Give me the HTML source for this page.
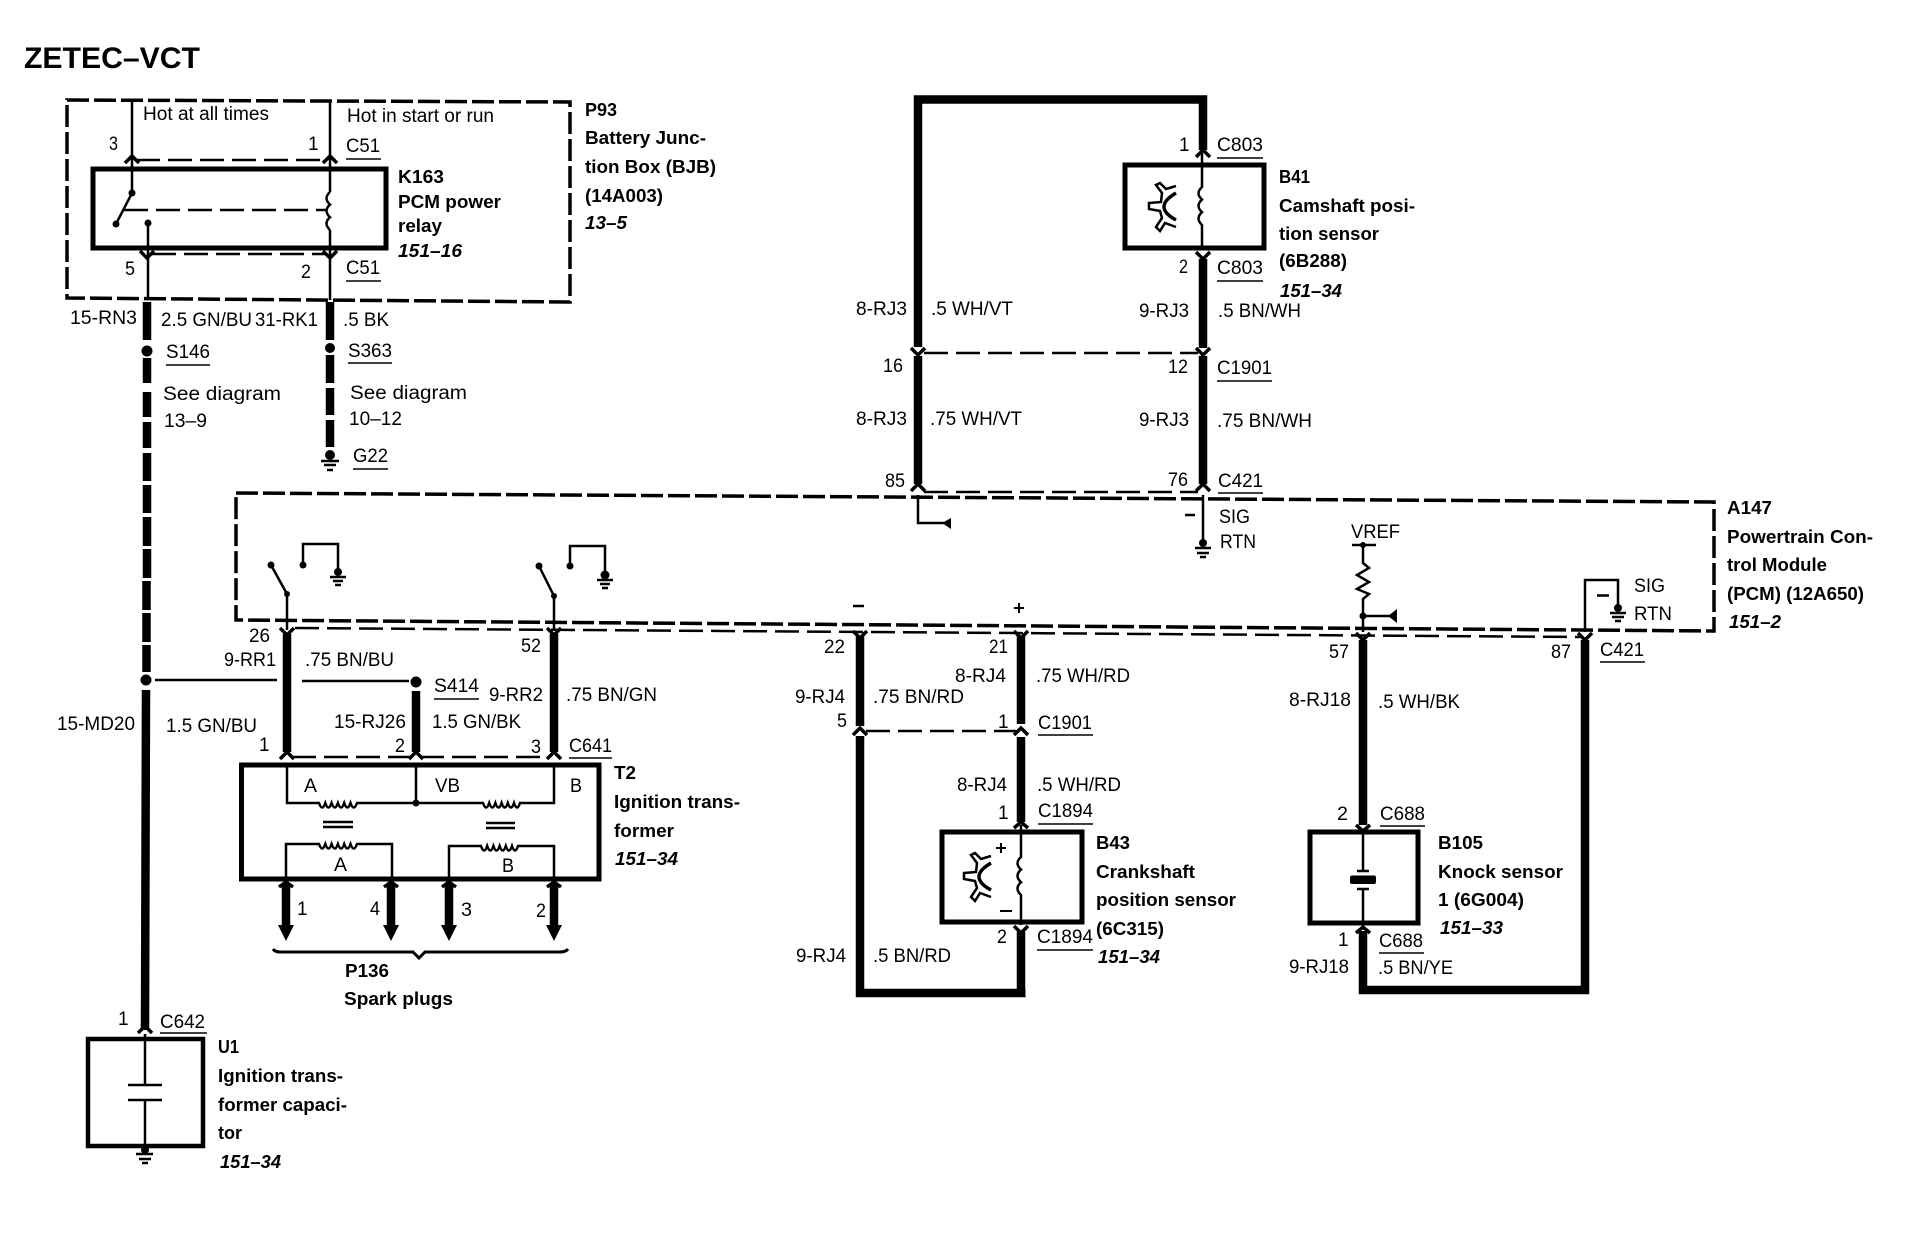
<!DOCTYPE html>
<html><head><meta charset="utf-8"><title>ZETEC-VCT</title>
<style>
html,body{margin:0;padding:0;background:#fff}
svg{display:block}
text{font-family:"Liberation Sans",sans-serif;fill:#000;stroke:none}
.r{font-size:19px}
.b{font-size:18px;font-weight:bold}
.i{font-size:18px;font-weight:bold;font-style:italic}
.t{stroke:#000;stroke-width:2.5;fill:none}
.w{stroke:#000;stroke-width:8.5;fill:none}
.box{stroke:#000;stroke-width:5;fill:none}
.d{stroke:#000;stroke-width:3.5;fill:none;stroke-dasharray:22 5}
.c{stroke:#000;stroke-width:2.5;fill:none;stroke-dasharray:24 8}
.a{stroke:#000;stroke-width:3.5;fill:none}
.u{stroke:#000;stroke-width:1.6}
.g{stroke:#000;stroke-width:2.5}
</style></head><body>
<svg width="1924" height="1248" viewBox="0 0 1924 1248" xmlns="http://www.w3.org/2000/svg">
<rect width="1924" height="1248" fill="#fff"/>
<text x="24" y="68" font-size="30" font-weight="bold" textLength="176" lengthAdjust="spacingAndGlyphs">ZETEC–VCT</text>

<!-- P93 -->
<path class="d" d="M67 100L570 102V302L67 298Z"/>
<path class="t" d="M132 100V193M132 193L116 224M148 223V300M330 100V192M330 230V300"/>
<path class="t" d="M330 192q-7 6.3 0 12.6q-7 6.3 0 12.6q-7 6.3 0 12.8"/>
<circle cx="132" cy="193" r="3.5"/><circle cx="116" cy="224" r="3.5"/><circle cx="148" cy="223" r="3.5"/>
<rect class="box" x="93" y="169" width="293" height="79"/>
<path class="c" d="M124 210H327M136 160H326M152 254H326"/>
<path class="a" d="M125 163L132 156L139 163M323 163L330 156L337 163M140 251L147 258L154 251M323 251L330 258L337 251"/>

<!-- left main wire -->
<path class="w" d="M147 302V340"/><circle cx="147" cy="351" r="5.5"/>
<path class="w" d="M147 358V383M147 392V417M147 422V448M147 453V481M147 485V513M147 517V546M147 549V578M146.500 581V610M146.500 613V642M146.500 645V672"/>
<circle cx="146" cy="680" r="5.5"/>
<path class="w" d="M146 690L145 1030"/>
<path class="t" d="M155 680H277M302 681H409"/><circle cx="416" cy="682" r="5.500"/>
<path class="a" d="M138 1033L145 1026L152 1033"/>

<!-- right P93 wire -->
<path class="w" d="M330 302V340"/><circle cx="330" cy="348" r="5"/>
<path class="w" d="M330 355V383M330 388V415M330 420V447"/>
<circle cx="330" cy="455" r="5"/><path class="g" d="M321 461H339M324 465H336M327 470H333"/>

<text class="r" x="143" y="120" textLength="126" lengthAdjust="spacingAndGlyphs">Hot at all times</text>
<text class="r" x="347" y="122" textLength="147" lengthAdjust="spacingAndGlyphs">Hot in start or run</text>
<text class="r" x="109" y="150" textLength="9" lengthAdjust="spacingAndGlyphs">3</text>
<text class="r" x="308" y="150">1</text>
<text class="r" x="346" y="152" textLength="34" lengthAdjust="spacingAndGlyphs">C51</text><path class="u" d="M346 159H381"/>
<text class="b" x="398" y="183" textLength="46" lengthAdjust="spacingAndGlyphs">K163</text>
<text class="b" x="398" y="208" textLength="103" lengthAdjust="spacingAndGlyphs">PCM power</text>
<text class="b" x="398" y="232" textLength="44" lengthAdjust="spacingAndGlyphs">relay</text>
<text class="i" x="398" y="257" textLength="64" lengthAdjust="spacingAndGlyphs">151–16</text>
<text class="b" x="585" y="116" textLength="32" lengthAdjust="spacingAndGlyphs">P93</text>
<text class="b" x="585" y="144" textLength="121" lengthAdjust="spacingAndGlyphs">Battery Junc-</text>
<text class="b" x="585" y="173" textLength="131" lengthAdjust="spacingAndGlyphs">tion Box (BJB)</text>
<text class="b" x="585" y="202" textLength="78" lengthAdjust="spacingAndGlyphs">(14A003)</text>
<text class="i" x="585" y="229" textLength="42" lengthAdjust="spacingAndGlyphs">13–5</text>
<text class="r" x="125" y="275" textLength="10" lengthAdjust="spacingAndGlyphs">5</text>
<text class="r" x="301" y="278" textLength="10" lengthAdjust="spacingAndGlyphs">2</text>
<text class="r" x="346" y="274" textLength="34" lengthAdjust="spacingAndGlyphs">C51</text><path class="u" d="M346 281H381"/>
<text class="r" x="70" y="324" textLength="67" lengthAdjust="spacingAndGlyphs">15-RN3</text>
<text class="r" x="161" y="326" textLength="91" lengthAdjust="spacingAndGlyphs">2.5 GN/BU</text>
<text class="r" x="255" y="326" textLength="63" lengthAdjust="spacingAndGlyphs">31-RK1</text>
<text class="r" x="343" y="326" textLength="46" lengthAdjust="spacingAndGlyphs">.5 BK</text>
<text class="r" x="166" y="358" textLength="44" lengthAdjust="spacingAndGlyphs">S146</text><path class="u" d="M166 365H210"/>
<text class="r" x="348" y="357" textLength="44" lengthAdjust="spacingAndGlyphs">S363</text><path class="u" d="M348 363H392"/>
<text class="r" x="163" y="400" textLength="118" lengthAdjust="spacingAndGlyphs">See diagram</text>
<text class="r" x="164" y="427" textLength="43" lengthAdjust="spacingAndGlyphs">13–9</text>
<text class="r" x="350" y="399" textLength="117" lengthAdjust="spacingAndGlyphs">See diagram</text>
<text class="r" x="349" y="425" textLength="53" lengthAdjust="spacingAndGlyphs">10–12</text>
<text class="r" x="353" y="462" textLength="35" lengthAdjust="spacingAndGlyphs">G22</text><path class="u" d="M353 469H388"/>
<text class="r" x="57" y="730" textLength="78" lengthAdjust="spacingAndGlyphs">15-MD20</text>
<text class="r" x="166" y="732" textLength="91" lengthAdjust="spacingAndGlyphs">1.5 GN/BU</text>

<!-- A147 -->
<path class="d" d="M236 493L1714 502V631L236 620Z"/>
<path class="c" d="M295 628L1580 637"/>

<!-- switches -->
<path class="t" d="M287 594V630M287 594L271 565M303 565V544H338V572"/>
<circle cx="287" cy="594" r="3"/><circle cx="271" cy="565" r="3.500"/><circle cx="303" cy="565" r="3.500"/><circle cx="338" cy="572" r="4"/>
<path class="g" d="M330 577H346M333 581H343M335 585H341"/>
<path class="t" d="M554 596V630M554 596L539 566M570 566V546H605V575"/>
<circle cx="554" cy="596" r="3"/><circle cx="539" cy="566" r="3.500"/><circle cx="570" cy="566" r="3.500"/><circle cx="605" cy="575" r="4.500"/>
<path class="g" d="M597 580H613M600 584H610M602 588H608"/>

<!-- T2 wires -->
<path class="w" d="M287 634V752M554 634V752M416 691V752"/>
<path class="a" d="M280 628L287 635L294 628M547 628L554 635L561 628"/>
<path class="c" d="M292 757H550"/>
<path class="a" d="M280 759L287 752L294 759M409 759L416 752L423 759M547 759L554 752L561 759"/>
<rect class="box" x="241.500" y="765" width="357.500" height="114"/>
<path class="t" d="M287 765V803H319q3.200 9 6.300 0q3.200 9 6.300 0q3.200 9 6.300 0q3.200 9 6.300 0q3.200 9 6.300 0q3.200 9 6.500 0H483q3.100 9 6.200 0q3.100 9 6.200 0q3.100 9 6.200 0q3.100 9 6.200 0q3.100 9 6.200 0q3.100 9 6 0H554V765M416 765V803"/>
<circle cx="416" cy="803" r="3.500"/>
<path class="t" d="M323 822H353M323 827H353M486 823H515M486 828H515"/>
<path class="t" d="M286 879V844H319q3.200 9 6.300 0q3.200 9 6.300 0q3.200 9 6.300 0q3.200 9 6.300 0q3.200 9 6.300 0q3.200 9 6.500 0H392V879"/>
<path class="t" d="M449 879V846H481q3.100 9 6.200 0q3.100 9 6.200 0q3.100 9 6.200 0q3.100 9 6.200 0q3.100 9 6.200 0q3.100 9 6 0H554V879"/>
<path class="w" d="M286 884V926M391 884V926M449 884V926M554 884V926"/>
<path d="M278 925H294L286 941ZM383 925H399L391 941ZM441 925H457L449 941ZM546 925H562L554 941Z"/>
<path class="a" d="M279 887L286 882L293 887M384 887L391 882L398 887M442 887L449 882L456 887M547 887L554 882L561 887"/>
<path d="M273 949Q275 952 280 952H413L419 958L425 952H560Q566 952 568 949" stroke="#000" stroke-width="3" fill="none"/>

<text class="r" x="249" y="642" textLength="21" lengthAdjust="spacingAndGlyphs">26</text>
<text class="r" x="224" y="666" textLength="52" lengthAdjust="spacingAndGlyphs">9-RR1</text>
<text class="r" x="305" y="666" textLength="89" lengthAdjust="spacingAndGlyphs">.75 BN/BU</text>
<text class="r" x="521" y="652" textLength="20" lengthAdjust="spacingAndGlyphs">52</text>
<text class="r" x="434" y="692" textLength="45" lengthAdjust="spacingAndGlyphs">S414</text><path class="u" d="M434 699H479"/>
<text class="r" x="489" y="701" textLength="54" lengthAdjust="spacingAndGlyphs">9-RR2</text>
<text class="r" x="566" y="701" textLength="91" lengthAdjust="spacingAndGlyphs">.75 BN/GN</text>
<text class="r" x="334" y="728" textLength="72" lengthAdjust="spacingAndGlyphs">15-RJ26</text>
<text class="r" x="432" y="728" textLength="89" lengthAdjust="spacingAndGlyphs">1.5 GN/BK</text>
<text class="r" x="259" y="751">1</text>
<text class="r" x="395" y="752" textLength="10" lengthAdjust="spacingAndGlyphs">2</text>
<text class="r" x="531" y="753" textLength="10" lengthAdjust="spacingAndGlyphs">3</text>
<text class="r" x="569" y="752" textLength="43" lengthAdjust="spacingAndGlyphs">C641</text><path class="u" d="M569 758H612"/>
<text class="r" x="304" y="792" textLength="13" lengthAdjust="spacingAndGlyphs">A</text>
<text class="r" x="435" y="792" textLength="25" lengthAdjust="spacingAndGlyphs">VB</text>
<text class="r" x="570" y="792" textLength="12" lengthAdjust="spacingAndGlyphs">B</text>
<text class="r" x="334" y="871" textLength="13" lengthAdjust="spacingAndGlyphs">A</text>
<text class="r" x="502" y="872" textLength="12" lengthAdjust="spacingAndGlyphs">B</text>
<text class="r" x="297" y="915">1</text>
<text class="r" x="370" y="915" textLength="10" lengthAdjust="spacingAndGlyphs">4</text>
<text class="r" x="461" y="916" textLength="11" lengthAdjust="spacingAndGlyphs">3</text>
<text class="r" x="536" y="917" textLength="10" lengthAdjust="spacingAndGlyphs">2</text>
<text class="b" x="345" y="977" textLength="44" lengthAdjust="spacingAndGlyphs">P136</text>
<text class="b" x="344" y="1005" textLength="109" lengthAdjust="spacingAndGlyphs">Spark plugs</text>
<text class="b" x="614" y="779" textLength="22" lengthAdjust="spacingAndGlyphs">T2</text>
<text class="b" x="614" y="808" textLength="126" lengthAdjust="spacingAndGlyphs">Ignition trans-</text>
<text class="b" x="614" y="837" textLength="60" lengthAdjust="spacingAndGlyphs">former</text>
<text class="i" x="615" y="865" textLength="63" lengthAdjust="spacingAndGlyphs">151–34</text>

<!-- U1 -->
<rect x="88" y="1039" width="115" height="107" fill="none" stroke="#000" stroke-width="4.500"/>
<path class="t" d="M145 1034V1084M145 1100V1146M128 1085H162M128 1100H162"/>
<circle cx="145" cy="1150" r="4"/><path class="g" d="M136 1154H153M139 1159H151M142 1163H148"/>
<text class="r" x="118" y="1025">1</text>
<text class="r" x="160" y="1028" textLength="45" lengthAdjust="spacingAndGlyphs">C642</text><path class="u" d="M160 1033H207"/>
<text class="b" x="218" y="1053" textLength="21" lengthAdjust="spacingAndGlyphs">U1</text>
<text class="b" x="218" y="1082" textLength="125" lengthAdjust="spacingAndGlyphs">Ignition trans-</text>
<text class="b" x="218" y="1111" textLength="129" lengthAdjust="spacingAndGlyphs">former capaci-</text>
<text class="b" x="218" y="1139" textLength="24" lengthAdjust="spacingAndGlyphs">tor</text>
<text class="i" x="220" y="1168" textLength="61" lengthAdjust="spacingAndGlyphs">151–34</text>

<!-- Camshaft loop -->
<path class="w" d="M918 347V99.500H1203V150"/>
<path class="a" d="M1196 157L1203 150L1210 157"/>
<rect class="box" x="1125" y="165" width="139" height="83"/>
<path class="t" d="M1202 153V187q-7 6.300 0 12.600q-7 6.300 0 12.600q-7 6.300 0 12.800V250"/>
<g transform="translate(1140 170)"><path d="M36 16L26 19L20 13L16 15L22 23L21 32L9 33L9 39L20 41L22 48L16 57L20 61L25 53L36 57" fill="none" stroke="#000" stroke-width="2.500"/><path d="M36 23Q12 37 36 50" fill="none" stroke="#000" stroke-width="3.500"/></g>
<path class="a" d="M1196 252L1203 259L1210 252"/>
<path class="w" d="M1203 259V348"/>
<path class="c" d="M924 353H1198"/>
<path class="a" d="M911 348L918 355L925 348M1196 348L1203 355L1210 348"/>
<path class="w" d="M918 356V484M1203 356V484"/>
<path class="c" d="M924 492H1198"/>
<path class="a" d="M911 491L918 484L925 491M1196 491L1203 484L1210 491"/>
<path class="t" d="M918 495V523H944M1203 495V540"/>
<path d="M951 518V529L942 523Z"/>
<circle cx="1203" cy="543" r="4"/><path class="g" d="M1195 548H1211M1197 553H1209M1200 557H1206"/>

<text class="r" x="1179" y="151">1</text>
<text class="r" x="1217" y="151" textLength="46" lengthAdjust="spacingAndGlyphs">C803</text><path class="u" d="M1217 158H1263"/>
<text class="b" x="1279" y="183" textLength="31" lengthAdjust="spacingAndGlyphs">B41</text>
<text class="b" x="1279" y="212" textLength="136" lengthAdjust="spacingAndGlyphs">Camshaft posi-</text>
<text class="b" x="1279" y="240" textLength="100" lengthAdjust="spacingAndGlyphs">tion sensor</text>
<text class="b" x="1279" y="267" textLength="68" lengthAdjust="spacingAndGlyphs">(6B288)</text>
<text class="i" x="1280" y="297" textLength="62" lengthAdjust="spacingAndGlyphs">151–34</text>
<text class="r" x="1179" y="273" textLength="9" lengthAdjust="spacingAndGlyphs">2</text>
<text class="r" x="1217" y="274" textLength="46" lengthAdjust="spacingAndGlyphs">C803</text><path class="u" d="M1217 281H1263"/>
<text class="r" x="856" y="315" textLength="51" lengthAdjust="spacingAndGlyphs">8-RJ3</text>
<text class="r" x="931" y="315" textLength="82" lengthAdjust="spacingAndGlyphs">.5 WH/VT</text>
<text class="r" x="1139" y="317" textLength="50" lengthAdjust="spacingAndGlyphs">9-RJ3</text>
<text class="r" x="1218" y="317" textLength="83" lengthAdjust="spacingAndGlyphs">.5 BN/WH</text>
<text class="r" x="883" y="372" textLength="20" lengthAdjust="spacingAndGlyphs">16</text>
<text class="r" x="1168" y="373" textLength="20" lengthAdjust="spacingAndGlyphs">12</text>
<text class="r" x="1217" y="374" textLength="55" lengthAdjust="spacingAndGlyphs">C1901</text><path class="u" d="M1217 381H1272"/>
<text class="r" x="856" y="425" textLength="51" lengthAdjust="spacingAndGlyphs">8-RJ3</text>
<text class="r" x="930" y="425" textLength="92" lengthAdjust="spacingAndGlyphs">.75 WH/VT</text>
<text class="r" x="1139" y="426" textLength="50" lengthAdjust="spacingAndGlyphs">9-RJ3</text>
<text class="r" x="1217" y="427" textLength="95" lengthAdjust="spacingAndGlyphs">.75 BN/WH</text>
<text class="r" x="885" y="487" textLength="20" lengthAdjust="spacingAndGlyphs">85</text>
<text class="r" x="1168" y="486" textLength="20" lengthAdjust="spacingAndGlyphs">76</text>
<text class="r" x="1218" y="487" textLength="45" lengthAdjust="spacingAndGlyphs">C421</text><path class="u" d="M1218 493H1263"/>
<path d="M1185 515H1195" stroke="#000" stroke-width="2.500"/>
<text class="r" x="1219" y="523" textLength="31" lengthAdjust="spacingAndGlyphs">SIG</text>
<text class="r" x="1220" y="548" textLength="36" lengthAdjust="spacingAndGlyphs">RTN</text>

<!-- Crankshaft -->
<path d="M853 606H864" stroke="#000" stroke-width="2.500"/>
<path d="M1014 608H1024M1019 603V613" stroke="#000" stroke-width="2"/>
<path class="w" d="M860 636V726M1021 636V724"/>
<path class="a" d="M853 631L860 638L867 631M1014 631L1021 638L1028 631"/>
<path class="c" d="M866 731H1016"/>
<path class="a" d="M853 735L860 728L867 735M1014 735L1021 728L1028 735"/>
<path class="w" d="M860 736V993H1025.500M1021 989V932M1021 737V822"/>
<path class="a" d="M1014 828L1021 822L1028 828"/>
<rect class="box" x="942" y="832" width="140" height="90"/>
<path class="t" d="M1021 825V857q-7 6.300 0 12.600q-7 6.300 0 12.600q-7 6.300 0 12.800V925"/>
<g transform="translate(955 840)"><path d="M36 16L26 19L20 13L16 15L22 23L21 32L9 33L9 39L20 41L22 48L16 57L20 61L25 53L36 57" fill="none" stroke="#000" stroke-width="2.500"/><path d="M36 23Q12 37 36 50" fill="none" stroke="#000" stroke-width="3.500"/></g>
<path d="M996 848H1006M1001 843V853M1000 911H1012" stroke="#000" stroke-width="2"/>
<path class="a" d="M1014 926L1021 933L1028 926"/>
<text class="r" x="824" y="653" textLength="21" lengthAdjust="spacingAndGlyphs">22</text>
<text class="r" x="989" y="653" textLength="19" lengthAdjust="spacingAndGlyphs">21</text>
<text class="r" x="955" y="682" textLength="51" lengthAdjust="spacingAndGlyphs">8-RJ4</text>
<text class="r" x="1036" y="682" textLength="94" lengthAdjust="spacingAndGlyphs">.75 WH/RD</text>
<text class="r" x="795" y="703" textLength="50" lengthAdjust="spacingAndGlyphs">9-RJ4</text>
<text class="r" x="873" y="703" textLength="91" lengthAdjust="spacingAndGlyphs">.75 BN/RD</text>
<text class="r" x="837" y="727" textLength="10" lengthAdjust="spacingAndGlyphs">5</text>
<text class="r" x="998" y="728">1</text>
<text class="r" x="1038" y="729" textLength="54" lengthAdjust="spacingAndGlyphs">C1901</text><path class="u" d="M1038 735H1093"/>
<text class="r" x="957" y="791" textLength="50" lengthAdjust="spacingAndGlyphs">8-RJ4</text>
<text class="r" x="1037" y="791" textLength="84" lengthAdjust="spacingAndGlyphs">.5 WH/RD</text>
<text class="r" x="998" y="819">1</text>
<text class="r" x="1038" y="817" textLength="55" lengthAdjust="spacingAndGlyphs">C1894</text><path class="u" d="M1038 824H1093"/>
<text class="b" x="1096" y="849" textLength="34" lengthAdjust="spacingAndGlyphs">B43</text>
<text class="b" x="1096" y="878" textLength="99" lengthAdjust="spacingAndGlyphs">Crankshaft</text>
<text class="b" x="1096" y="906" textLength="140" lengthAdjust="spacingAndGlyphs">position sensor</text>
<text class="b" x="1096" y="935" textLength="68" lengthAdjust="spacingAndGlyphs">(6C315)</text>
<text class="i" x="1098" y="963" textLength="62" lengthAdjust="spacingAndGlyphs">151–34</text>
<text class="r" x="997" y="943" textLength="10" lengthAdjust="spacingAndGlyphs">2</text>
<text class="r" x="1037" y="943" textLength="56" lengthAdjust="spacingAndGlyphs">C1894</text><path class="u" d="M1037 950H1093"/>
<text class="r" x="796" y="962" textLength="50" lengthAdjust="spacingAndGlyphs">9-RJ4</text>
<text class="r" x="873" y="962" textLength="78" lengthAdjust="spacingAndGlyphs">.5 BN/RD</text>

<!-- VREF / knock -->
<text class="r" x="1351" y="538" textLength="49" lengthAdjust="spacingAndGlyphs">VREF</text>
<path class="t" d="M1352 545H1376M1363 545V563L1369 568L1357 575L1369 582L1357 589L1369 594L1363 599V632M1363 616H1390"/>
<circle cx="1363" cy="545" r="3"/><circle cx="1363" cy="616" r="3.500"/>
<path d="M1397 609V623L1388 616Z"/>
<path class="w" d="M1363 640V825"/>
<path class="a" d="M1356 633L1363 640L1370 633M1356 825L1363 831L1370 825"/>
<rect class="box" x="1310" y="832" width="108" height="91"/>
<path class="t" d="M1363 832V871M1357 871H1369M1357 889H1369M1363 889V925"/>
<rect x="1350" y="875.500" width="26" height="8.500" rx="2"/>
<path class="a" d="M1356 933L1363 927L1370 933"/>
<path class="w" d="M1363 931V990H1585V640"/>
<path class="a" d="M1578 633L1585 640L1592 633"/>
<path class="t" d="M1585 632V580H1618V606"/>
<circle cx="1618" cy="608" r="4"/><path class="g" d="M1610 613H1626M1612 617H1624M1615 621H1621"/>
<path d="M1597 595.500H1609" stroke="#000" stroke-width="2.500"/>
<text class="r" x="1634" y="592" textLength="31" lengthAdjust="spacingAndGlyphs">SIG</text>
<text class="r" x="1634" y="620" textLength="38" lengthAdjust="spacingAndGlyphs">RTN</text>
<text class="r" x="1329" y="658" textLength="20" lengthAdjust="spacingAndGlyphs">57</text>
<text class="r" x="1551" y="658" textLength="20" lengthAdjust="spacingAndGlyphs">87</text>
<text class="r" x="1600" y="656" textLength="44" lengthAdjust="spacingAndGlyphs">C421</text><path class="u" d="M1600 662H1645"/>
<text class="r" x="1289" y="706" textLength="62" lengthAdjust="spacingAndGlyphs">8-RJ18</text>
<text class="r" x="1378" y="708" textLength="82" lengthAdjust="spacingAndGlyphs">.5 WH/BK</text>
<text class="r" x="1337" y="820" textLength="11" lengthAdjust="spacingAndGlyphs">2</text>
<text class="r" x="1380" y="820" textLength="45" lengthAdjust="spacingAndGlyphs">C688</text><path class="u" d="M1380 826H1425"/>
<text class="b" x="1438" y="849" textLength="45" lengthAdjust="spacingAndGlyphs">B105</text>
<text class="b" x="1438" y="878" textLength="125" lengthAdjust="spacingAndGlyphs">Knock sensor</text>
<text class="b" x="1438" y="906" textLength="86" lengthAdjust="spacingAndGlyphs">1 (6G004)</text>
<text class="i" x="1440" y="934" textLength="63" lengthAdjust="spacingAndGlyphs">151–33</text>
<text class="r" x="1338" y="946">1</text>
<text class="r" x="1379" y="947" textLength="44" lengthAdjust="spacingAndGlyphs">C688</text><path class="u" d="M1379 953H1424"/>
<text class="r" x="1289" y="973" textLength="60" lengthAdjust="spacingAndGlyphs">9-RJ18</text>
<text class="r" x="1378" y="974" textLength="75" lengthAdjust="spacingAndGlyphs">.5 BN/YE</text>
<text class="b" x="1727" y="514" textLength="45" lengthAdjust="spacingAndGlyphs">A147</text>
<text class="b" x="1727" y="543" textLength="146" lengthAdjust="spacingAndGlyphs">Powertrain Con-</text>
<text class="b" x="1727" y="571" textLength="100" lengthAdjust="spacingAndGlyphs">trol Module</text>
<text class="b" x="1727" y="600" textLength="137" lengthAdjust="spacingAndGlyphs">(PCM) (12A650)</text>
<text class="i" x="1729" y="628" textLength="52" lengthAdjust="spacingAndGlyphs">151–2</text>
</svg>
</body></html>
